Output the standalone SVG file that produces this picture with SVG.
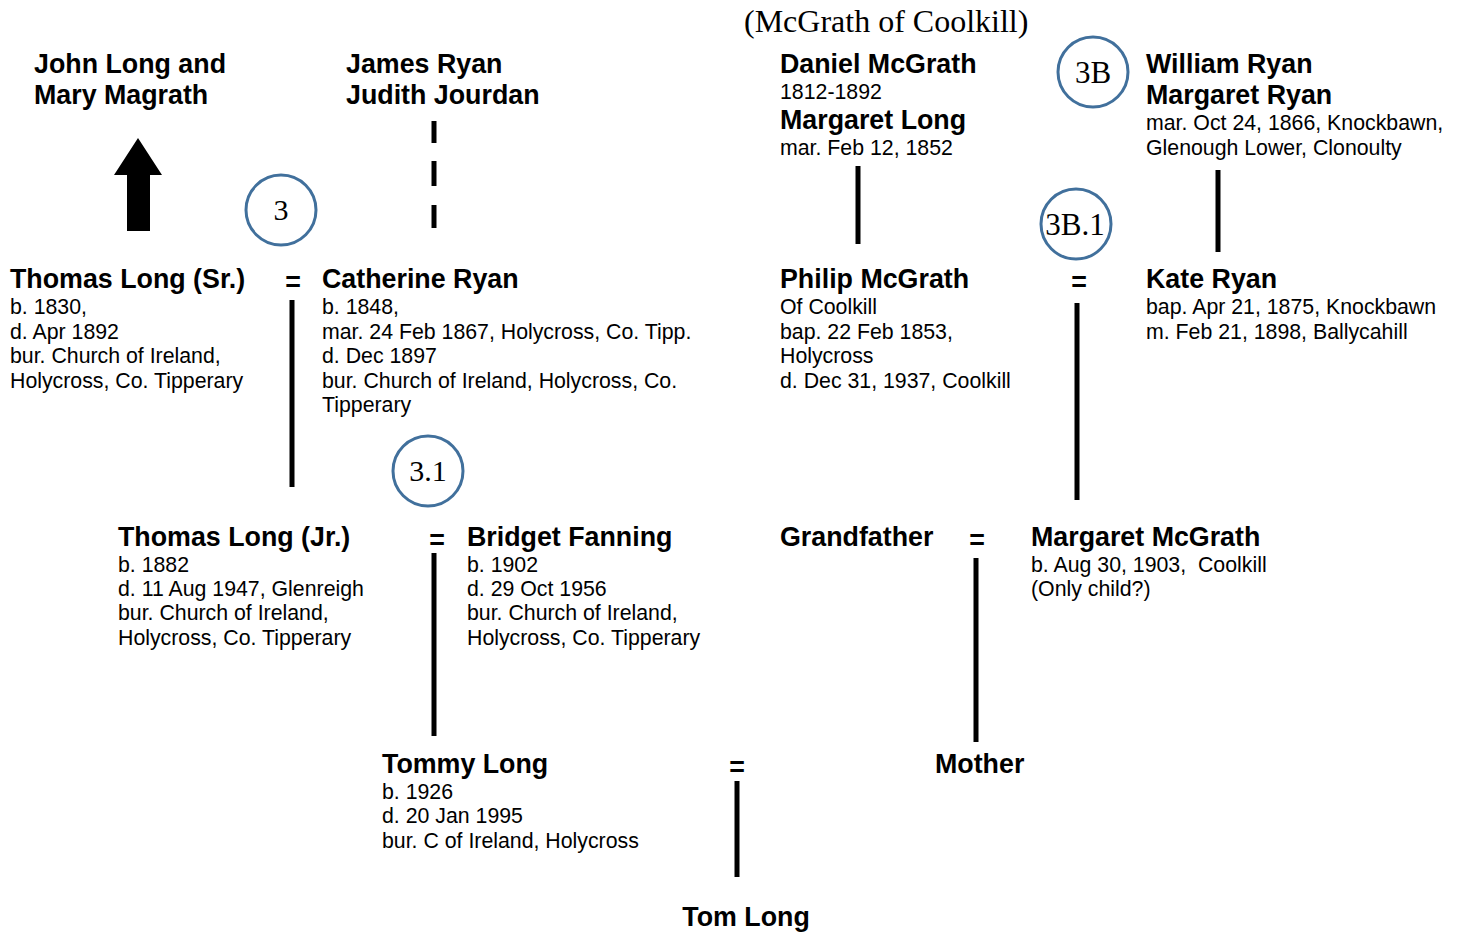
<svg xmlns="http://www.w3.org/2000/svg" width="1459" height="932" viewBox="0 0 1459 932">
<style>
.b{font-family:"Liberation Sans",Arial,sans-serif;font-weight:bold;font-size:26.8px;fill:#000}
.r{font-family:"Liberation Sans",Arial,sans-serif;font-size:21.3px;fill:#000}
.s{font-family:"Liberation Serif","Times New Roman",serif;fill:#000}
.c{fill:none;stroke:#41709C;stroke-width:3}
.ln{stroke:#000;stroke-width:5;fill:none}
</style>
<rect width="1459" height="932" fill="#fff"/>
<g id="connectors">
<polygon points="127,231 150,231 150,175 162,175 138,138 114,175 127,175" fill="#000"/>
<line class="ln" x1="434" y1="121" x2="434" y2="143"/>
<line class="ln" x1="434" y1="161" x2="434" y2="186"/>
<line class="ln" x1="434" y1="205" x2="434" y2="228"/>
<line class="ln" x1="858" y1="166" x2="858" y2="244"/>
<line class="ln" x1="1218" y1="170" x2="1218" y2="252"/>
<line class="ln" x1="292" y1="300" x2="292" y2="487"/>
<line class="ln" x1="1077" y1="303" x2="1077" y2="500"/>
<line class="ln" x1="434" y1="553" x2="434" y2="736"/>
<line class="ln" x1="976" y1="558" x2="976" y2="742"/>
<line class="ln" x1="737" y1="781" x2="737" y2="877"/>
</g>
<g id="circle-3"><ellipse class="c" cx="281" cy="210" rx="35" ry="35"/><text class="s" x="281" y="220" font-size="30" text-anchor="middle">3</text></g>
<g id="circle-3-1"><ellipse class="c" cx="428" cy="471" rx="35" ry="35"/><text class="s" x="428" y="481" font-size="30" text-anchor="middle">3.1</text></g>
<g id="circle-3B"><ellipse class="c" cx="1093" cy="72" rx="35" ry="35"/><text class="s" x="1093" y="83" font-size="31" text-anchor="middle">3B</text></g>
<g id="circle-3B-1"><ellipse class="c" cx="1076" cy="224" rx="35" ry="35"/><text class="s" x="1075" y="235" font-size="31" text-anchor="middle">3B.1</text></g>
<g id="title"><text class="s" x="744" y="32" font-size="32">(McGrath of Coolkill)</text></g>
<g id="john-long"><text class="b" x="34" y="73">John Long and</text><text class="b" x="34" y="104">Mary Magrath</text></g>
<g id="james-ryan"><text class="b" x="346" y="73">James Ryan</text><text class="b" x="346" y="104">Judith Jourdan</text></g>
<g id="daniel-mcgrath"><text class="b" x="780" y="73">Daniel McGrath</text><text class="r" x="780" y="99">1812-1892</text><text class="b" x="780" y="129">Margaret Long</text><text class="r" x="780" y="155">mar. Feb 12, 1852</text></g>
<g id="william-ryan"><text class="b" x="1146" y="73">William Ryan</text><text class="b" x="1146" y="104">Margaret Ryan</text><text class="r" x="1146" y="130">mar. Oct 24, 1866, Knockbawn,</text><text class="r" x="1146" y="155">Glenough Lower, Clonoulty</text></g>
<g id="thomas-sr"><text class="b" x="10" y="288">Thomas Long (Sr.)</text><text class="r"><tspan x="10" y="314">b. 1830,</tspan><tspan x="10" y="339">d. Apr 1892</tspan><tspan x="10" y="363">bur. Church of Ireland,</tspan><tspan x="10" y="388">Holycross, Co. Tipperary</tspan></text></g>
<g id="eq1"><text class="b" x="293" y="291" text-anchor="middle">=</text></g>
<g id="catherine-ryan"><text class="b" x="322" y="288">Catherine Ryan</text><text class="r"><tspan x="322" y="314">b. 1848,</tspan><tspan x="322" y="339">mar. 24 Feb 1867, Holycross, Co. Tipp.</tspan><tspan x="322" y="363">d. Dec 1897</tspan><tspan x="322" y="388">bur. Church of Ireland, Holycross, Co.</tspan><tspan x="322" y="412">Tipperary</tspan></text></g>
<g id="philip-mcgrath"><text class="b" x="780" y="288">Philip McGrath</text><text class="r"><tspan x="780" y="314">Of Coolkill</tspan><tspan x="780" y="339">bap. 22 Feb 1853,</tspan><tspan x="780" y="363">Holycross</tspan><tspan x="780" y="388">d. Dec 31, 1937, Coolkill</tspan></text></g>
<g id="eq2"><text class="b" x="1079" y="291" text-anchor="middle">=</text></g>
<g id="kate-ryan"><text class="b" x="1146" y="288">Kate Ryan</text><text class="r"><tspan x="1146" y="314">bap. Apr 21, 1875, Knockbawn</tspan><tspan x="1146" y="339">m. Feb 21, 1898, Ballycahill</tspan></text></g>
<g id="thomas-jr"><text class="b" x="118" y="546">Thomas Long (Jr.)</text><text class="r"><tspan x="118" y="572">b. 1882</tspan><tspan x="118" y="596">d. 11 Aug 1947, Glenreigh</tspan><tspan x="118" y="620">bur. Church of Ireland,</tspan><tspan x="118" y="645">Holycross, Co. Tipperary</tspan></text></g>
<g id="eq3"><text class="b" x="437" y="549" text-anchor="middle">=</text></g>
<g id="bridget-fanning"><text class="b" x="467" y="546">Bridget Fanning</text><text class="r"><tspan x="467" y="572">b. 1902</tspan><tspan x="467" y="596">d. 29 Oct 1956</tspan><tspan x="467" y="620">bur. Church of Ireland,</tspan><tspan x="467" y="645">Holycross, Co. Tipperary</tspan></text></g>
<g id="grandfather"><text class="b" x="780" y="546">Grandfather</text></g>
<g id="eq4"><text class="b" x="977" y="549" text-anchor="middle">=</text></g>
<g id="margaret-mcgrath"><text class="b" x="1031" y="546">Margaret McGrath</text><text class="r" xml:space="preserve"><tspan x="1031" y="572">b. Aug 30, 1903,  Coolkill</tspan><tspan x="1031" y="596">(Only child?)</tspan></text></g>
<g id="tommy-long"><text class="b" x="382" y="773">Tommy Long</text><text class="r"><tspan x="382" y="799">b. 1926</tspan><tspan x="382" y="823">d. 20 Jan 1995</tspan><tspan x="382" y="848">bur. C of Ireland, Holycross</tspan></text></g>
<g id="eq5"><text class="b" x="737" y="776" text-anchor="middle">=</text></g>
<g id="mother"><text class="b" x="935" y="773">Mother</text></g>
<g id="tom-long"><text class="b" x="746" y="926" text-anchor="middle">Tom Long</text></g>
</svg>
